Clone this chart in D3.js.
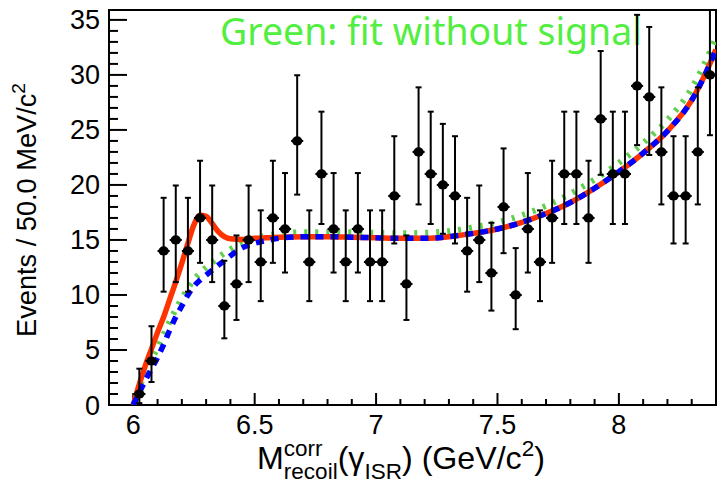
<!DOCTYPE html>
<html><head><meta charset="utf-8">
<script src="https://cdn.jsdelivr.net/npm/d3@7"></script>
<style>body{margin:0;background:#fff}svg{display:block}</style>
</head><body><svg id="c" width="719" height="485"></svg>
<script>
// ---- data ----
const binCenters = [6.025,6.075,6.125,6.175,6.225,6.275,6.325,6.375,6.425,6.475,6.525,6.575,6.625,6.675,6.725,6.775,6.825,6.875,6.925,6.975,7.025,7.075,7.125,7.175,7.225,7.275,7.325,7.375,7.425,7.475,7.525,7.575,7.625,7.675,7.725,7.775,7.825,7.875,7.925,7.975,8.025,8.075,8.125,8.175,8.225,8.275,8.325,8.375];
const counts = [1,4,14,15,14,17,15,9,11,15,13,17,16,24,13,21,16,13,16,13,13,19,11,23,21,20,19,14,15,12,18,10,16,13,17,21,21,17,26,21,21,29,28,23,19,19,23,30];
const errLow = [0.83,1.91,3.70,3.83,3.70,4.08,3.83,2.94,3.27,3.83,3.56,4.08,3.96,4.88,3.56,4.55,3.96,3.56,3.96,3.56,3.56,4.32,3.27,4.77,4.55,4.44,4.32,3.70,3.83,3.42,4.20,3.11,3.96,3.56,4.08,4.55,4.55,4.08,5.08,4.55,4.55,5.38,5.28,4.77,4.32,4.32,4.77,5.48];
const errHigh = [2.30,3.16,4.83,4.95,4.83,5.20,4.95,4.11,4.41,4.95,4.69,5.20,5.08,5.97,4.69,5.66,5.08,4.69,5.08,4.69,4.69,5.43,4.41,5.87,5.66,5.55,5.43,4.83,4.95,4.56,5.32,4.26,5.08,4.69,5.20,5.66,5.66,5.20,6.17,5.66,5.66,6.46,6.36,5.87,5.43,5.43,5.87,6.55];
const curveX = [6.0,6.025,6.05,6.075,6.1,6.125,6.15,6.175,6.2,6.225,6.25,6.275,6.3,6.325,6.35,6.375,6.4,6.45,6.5,6.55,6.6,6.7,6.8,6.9,7.0,7.1,7.2,7.3,7.4,7.5,7.6,7.7,7.8,7.9,8.0,8.1,8.2,8.3,8.35,8.4];
const fitWithSignal = [0,1.9,3.6,5.1,6.6,8.0,9.6,11.2,12.9,14.7,16.4,17.25,17.15,16.5,15.75,15.3,15.1,15.05,15.15,15.2,15.25,15.3,15.3,15.25,15.2,15.15,15.15,15.3,15.6,16.0,16.6,17.4,18.4,19.7,21.2,22.9,24.9,27.7,29.8,32.3];
const bkgWithSignal = [0,1.15,2.25,3.3,4.3,5.5,6.8,8.0,9.0,10.0,10.8,11.35,11.8,12.25,12.7,13.1,13.55,14.3,14.7,14.95,15.15,15.3,15.3,15.25,15.2,15.15,15.15,15.3,15.6,16.0,16.6,17.4,18.4,19.7,21.2,22.9,24.9,27.7,29.8,32.3];
const fitNoSignal = [0,1.6,2.9,4.1,5.2,6.4,7.6,8.7,9.7,10.6,11.4,12.0,12.5,12.95,13.4,13.8,14.15,14.75,15.15,15.4,15.55,15.7,15.7,15.7,15.65,15.6,15.65,15.8,16.15,16.6,17.25,18.1,19.2,20.5,22.0,23.8,25.9,28.8,30.9,33.4];
const xTickValues = [6, 6.5, 7, 7.5, 8];
const xTickLabels = ["6", "6.5", "7", "7.5", "8"];
const yTickValues = [0, 5, 10, 15, 20, 25, 30, 35];
const yTickLabels = ["0", "5", "10", "15", "20", "25", "30", "35"];
const annotation = "Green: fit without signal";

// ---- layout ----
const svg = d3.select("#c");
const L = 109, R = 716, T = 10, B = 405;
const x = d3.scaleLinear().domain([5.9, 8.4]).range([L, R]);
const y = d3.scaleLinear().domain([0, 35.9]).range([B, T]);
const FONT = "'Liberation Sans', Arial, Helvetica, sans-serif";

svg.append("clipPath").attr("id", "clip").append("rect")
  .attr("x", L).attr("y", T).attr("width", R - L).attr("height", B - T);

// annotation text (behind data)
const ann = svg.append("text").attr("x", 220).attr("y", 45)
  .attr("font-family", "'Noto Sans', 'Open Sans', sans-serif")
  .attr("font-size", 38).attr("fill", "#52ee40").text(annotation);
{
  const w = ann.node().getComputedTextLength();
  ann.attr("font-size", 38 * 422 / w);
}

// ---- axes ----
const xMinor = d3.range(59, 85).map(v => v / 10).filter(v => v > 5.9 && v < 8.4);
const yMinor = d3.range(0, 36);
const axisG = svg.append("g");
axisG.selectAll(".xt").data(xMinor).join("line")
  .attr("x1", d => x(d)).attr("x2", d => x(d))
  .attr("y1", B).attr("y2", d => B - (Math.abs(d * 2 - Math.round(d * 2)) < 1e-6 ? 12 : 6))
  .attr("stroke", "#000").attr("stroke-width", 2);
axisG.selectAll(".yt").data(yMinor).join("line")
  .attr("y1", d => y(d)).attr("y2", d => y(d))
  .attr("x1", L).attr("x2", d => L + (d % 5 === 0 ? 18 : 9))
  .attr("stroke", "#000").attr("stroke-width", 2);
svg.append("rect").attr("x", L).attr("y", T).attr("width", R - L).attr("height", B - T)
  .attr("fill", "none").attr("stroke", "#000").attr("stroke-width", 2);

// tick labels
svg.selectAll(".xl").data(xTickValues).join("text")
  .attr("x", d => x(d)).attr("y", 434).attr("text-anchor", "middle")
  .attr("font-family", FONT).attr("font-size", 27)
  .text((d, i) => xTickLabels[i]);
svg.selectAll(".yl").data(yTickValues).join("text")
  .attr("x", 100).attr("y", d => y(d) + 9.5).attr("text-anchor", "end")
  .attr("font-family", FONT).attr("font-size", 27)
  .text((d, i) => yTickLabels[i]);

// y title
{
  const g = svg.append("g").attr("transform", "translate(36,210) rotate(-90)");
  const t = g.append("text").attr("text-anchor", "middle").attr("font-family", FONT).attr("font-size", 27);
  t.append("tspan").text("Events / 50.0 MeV/c");
  t.append("tspan").attr("font-size", 19).attr("dy", -11).text("2");
  const w = t.node().getComputedTextLength();
  const s = 254 / w;
  t.attr("font-size", 27 * s);
  t.select("tspan:nth-child(2)").attr("font-size", 19 * s).attr("dy", -11 * s);
}

// x title
{
  const g = svg.append("g").attr("font-family", FONT);
  function build(fs) {
    g.selectAll("*").remove();
    const sub = fs * 0.7;
    let cx = 0;
    const add = (t, size, dy) => {
      const el = g.append("text").attr("x", cx).attr("y", dy).attr("font-size", size)
        .style("white-space", "pre").text(t);
      return el.node().getComputedTextLength();
    };
    cx += add("M", fs, 0);
    const w1 = add("corr", sub, -fs * 0.42);
    const w2 = add("recoil", sub, fs * 0.3);
    cx += Math.max(w1, w2);
    cx += add("(\u03B3", fs, 0);
    cx += add("ISR", sub, fs * 0.3);
    cx += add(") (GeV/c", fs, 0);
    cx += add("2", sub, -fs * 0.42);
    cx += add(")", fs, 0);
    return cx;
  }
  let w = build(27);
  const fs = 27 * 288 / w;
  w = build(fs);
  g.attr("transform", `translate(${401 - w / 2},469)`);
}

// ---- curves ----
const curves = svg.append("g").attr("clip-path", "url(#clip)");
const mk = vals => d3.line().x((d, i) => x(curveX[i])).y(d => y(d)).curve(d3.curveMonotoneX)(vals);
curves.append("path").attr("d", mk(fitNoSignal)).attr("fill", "none")
  .attr("stroke", "#62cf4e").attr("stroke-width", 6).attr("stroke-dasharray", "3,8");
curves.append("path").attr("d", mk(fitWithSignal)).attr("fill", "none")
  .attr("stroke", "#ff3300").attr("stroke-width", 5.5);
curves.append("path").attr("d", mk(bkgWithSignal)).attr("fill", "none")
  .attr("stroke", "#0000ff").attr("stroke-width", 5.5).attr("stroke-dasharray", "8,7");

// ---- data points ----
const pts = svg.append("g").attr("clip-path", "url(#clip)");
const halfBin = x(6.025) - x(6.0);
binCenters.forEach((c, i) => {
  const cx = x(c), cy = y(counts[i]);
  const yt = y(counts[i] + errHigh[i]), yb = y(counts[i] - errLow[i]);
  pts.append("line").attr("x1", cx).attr("x2", cx).attr("y1", yt).attr("y2", yb)
    .attr("stroke", "#000").attr("stroke-width", 2);
  pts.append("line").attr("x1", cx - 3).attr("x2", cx + 3).attr("y1", yt).attr("y2", yt)
    .attr("stroke", "#000").attr("stroke-width", 2);
  pts.append("line").attr("x1", cx - 3).attr("x2", cx + 3).attr("y1", yb).attr("y2", yb)
    .attr("stroke", "#000").attr("stroke-width", 2);
  pts.append("line").attr("x1", cx - halfBin).attr("x2", cx + halfBin).attr("y1", cy).attr("y2", cy)
    .attr("stroke", "#000").attr("stroke-width", 2);
  pts.append("ellipse").attr("cx", cx).attr("cy", cy).attr("rx", 5.2).attr("ry", 4.6).attr("fill", "#000");
});
</script></body></html>
